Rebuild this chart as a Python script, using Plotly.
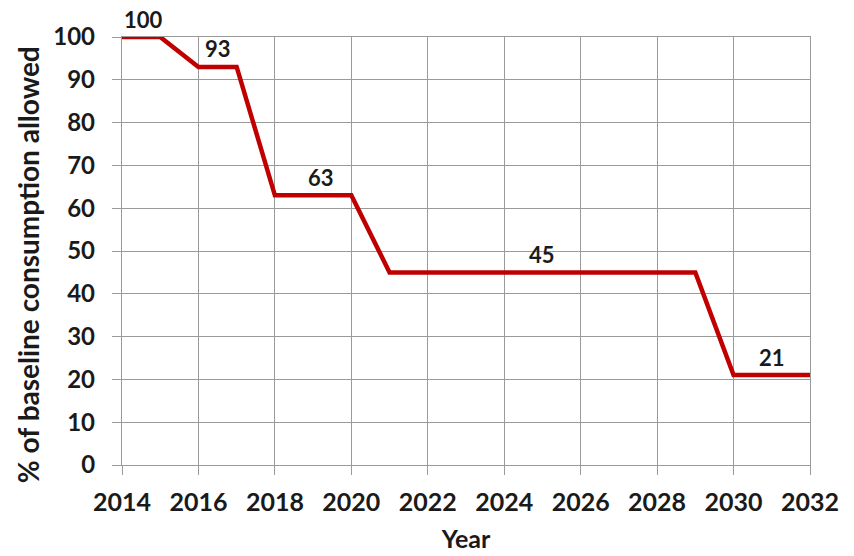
import plotly.graph_objects as go

years = [2014, 2015, 2016, 2017, 2018, 2019, 2020, 2021, 2022, 2023, 2024, 2025,
         2026, 2027, 2028, 2029, 2030, 2031, 2032]
allowed = [100, 100, 93, 93, 63, 63, 63, 45, 45, 45, 45, 45, 45, 45, 45, 45, 21, 21, 21]

label_years = [2014.55, 2016.5, 2019.2, 2025.0, 2031.0]
label_values = [100, 93, 63, 45, 21]
label_texts = ["100", "93", "63", "45", "21"]

FONT = "Lato"
TXT = "#1a1a1a"

fig = go.Figure()
fig.add_trace(go.Scatter(x=years, y=allowed, mode="lines",
                         line=dict(color="#C00000", width=4.5),
                         hoverinfo="skip", showlegend=False))

for x, y, t in zip(label_years, label_values, label_texts):
    fig.add_annotation(x=x, y=y, text="<b>" + t + "</b>", showarrow=False, yshift=18,
                       font=dict(family=FONT, size=22, color=TXT),
                       xanchor="center", yanchor="middle")

fig.add_annotation(x=-0.1366, y=0.467, xref="paper", yref="paper",
                   text="<b>% of baseline consumption allowed</b>", textangle=-90,
                   showarrow=False, xanchor="center", yanchor="middle",
                   font=dict(family=FONT, size=28, color=TXT))

fig.update_layout(
    width=854, height=556,
    margin=dict(l=122, r=44, t=37, b=91, autoexpand=False),
    plot_bgcolor="white", paper_bgcolor="white",
    font=dict(family=FONT, size=24, color=TXT),
    xaxis=dict(range=[2014, 2032], dtick=2, tick0=2014, showgrid=True,
               gridcolor="#9a9a9a", gridwidth=1.3, zeroline=False,
               showline=True, linecolor="#9a9a9a", linewidth=1.3, mirror=True,
               ticks="outside", ticklen=9, tickcolor="#9a9a9a", ticklabelstandoff=6,
               automargin=False,
               tickfont=dict(family=FONT, size=25, weight="bold", color=TXT),
               title=dict(text="<b>Year</b>", font=dict(family=FONT, size=25, color=TXT),
                          standoff=15)),
    yaxis=dict(range=[0, 100], dtick=10, showgrid=True,
               gridcolor="#9a9a9a", gridwidth=1.3, zeroline=False,
               showline=True, linecolor="#9a9a9a", linewidth=1.3, mirror=True,
               ticks="outside", ticklen=9, tickcolor="#9a9a9a", ticklabelstandoff=12,
               automargin=False,
               tickfont=dict(family=FONT, size=24, weight="bold", color=TXT)),
)

fig.write_html("out.html", config={"displayModeBar": False},
               post_script="document.body.style.margin='0';")
